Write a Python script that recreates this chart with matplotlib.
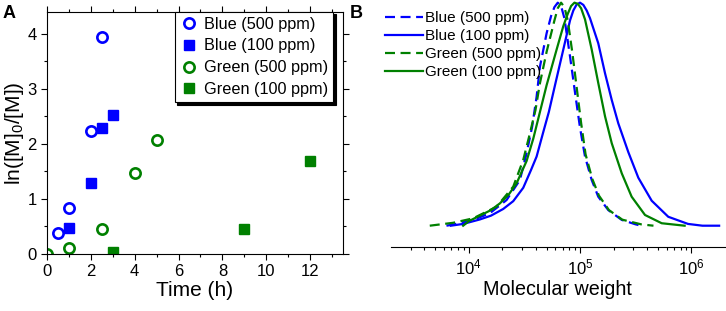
import matplotlib
matplotlib.use("Agg")
import matplotlib.pyplot as plt
from matplotlib.ticker import MultipleLocator, LogLocator, NullFormatter
import numpy as np

plt.rcParams['font.family'] = ['Liberation Sans', 'DejaVu Sans']
plt.rcParams['mathtext.default'] = 'regular'

BLUE = '#0000ff'
GREEN = '#008000'

# ---- panel A: conversion vs time ----
t_blue500 = [0.5, 1, 2, 2.5]
y_blue500 = [0.39, 0.83, 2.24, 3.94]
t_blue100 = [1, 2, 2.5, 3]
y_blue100 = [0.48, 1.29, 2.29, 2.52]
t_green500 = [0, 1, 2.5, 4, 5]
y_green500 = [0.0, 0.11, 0.45, 1.47, 2.07]
t_green100 = [3, 9, 12]
y_green100 = [0.03, 0.45, 1.69]

# ---- panel B: GPC traces (log10 of molecular weight, normalised signal) ----
logm_blue500 = [3.80, 3.86, 4.04, 4.19, 4.34, 4.46, 4.52, 4.57, 4.61, 4.64, 4.70, 4.74, 4.77, 4.80,
                4.83, 4.86, 4.91, 4.96, 5.00, 5.045, 5.105, 5.164, 5.254, 5.375, 5.50, 5.55]
h_blue500 = [0.0, 0.005, 0.026, 0.056, 0.115, 0.205, 0.325, 0.444, 0.578, 0.713, 0.863, 0.94, 0.98, 1.0,
             0.985, 0.93, 0.76, 0.58, 0.44, 0.31, 0.205, 0.13, 0.07, 0.026, 0.006, 0.0]

logm_blue100 = [3.84, 3.95, 4.10, 4.20, 4.31, 4.40, 4.49, 4.56, 4.61, 4.67, 4.72, 4.78, 4.85, 4.91,
                4.94, 4.97, 5.00, 5.03, 5.06, 5.09, 5.164, 5.225, 5.285, 5.344, 5.434, 5.524,
                5.644, 5.793, 5.97, 6.10, 6.25]
h_blue100 = [0.0, 0.008, 0.028, 0.045, 0.075, 0.11, 0.17, 0.25, 0.31, 0.42, 0.51, 0.64, 0.79, 0.92,
             0.965, 0.992, 1.0, 0.99, 0.965, 0.93, 0.818, 0.683, 0.564, 0.459, 0.33, 0.215,
             0.112, 0.04, 0.008, 0.0, 0.0]

logm_green500 = [3.65, 3.86, 4.04, 4.25, 4.40, 4.49, 4.55, 4.60, 4.64, 4.70, 4.77, 4.80, 4.83,
                 4.86, 4.89, 4.93, 4.975, 5.01, 5.05, 5.11, 5.17, 5.26, 5.38, 5.55, 5.66]
h_green500 = [0.0, 0.013, 0.033, 0.085, 0.175, 0.295, 0.414, 0.519, 0.639, 0.78, 0.92, 0.975, 1.0,
              0.98, 0.92, 0.78, 0.60, 0.46, 0.32, 0.21, 0.135, 0.07, 0.027, 0.006, 0.0]

logm_green100 = [3.95, 4.00, 4.10, 4.20, 4.28, 4.36, 4.43, 4.52, 4.58, 4.64, 4.70, 4.79, 4.85,
                 4.89, 4.92, 4.95, 4.98, 5.01, 5.045, 5.105, 5.164, 5.225, 5.285, 5.375, 5.464,
                 5.584, 5.734, 5.94]
h_green100 = [0.0, 0.02, 0.045, 0.07, 0.10, 0.14, 0.19, 0.29, 0.39, 0.51, 0.63, 0.79, 0.895,
              0.95, 0.985, 1.0, 0.995, 0.975, 0.925, 0.79, 0.64, 0.49, 0.37, 0.235, 0.13,
              0.048, 0.011, 0.0]

fig = plt.figure(figsize=(7.26, 3.11), dpi=100)

# panel A
axA = fig.add_axes([0.0647, 0.1833, 0.4078, 0.7791])
mk = dict(linestyle='none', markersize=7.4)
axA.plot(t_blue500, y_blue500, marker='o', mfc='white', mec=BLUE, mew=1.9, label='Blue (500 ppm)', **mk)
axA.plot(t_blue100, y_blue100, marker='s', color=BLUE, label='Blue (100 ppm)', **mk)
axA.plot(t_green500, y_green500, marker='o', mfc='white', mec=GREEN, mew=1.9, label='Green (500 ppm)', **mk)
axA.plot(t_green100, y_green100, marker='s', color=GREEN, label='Green (100 ppm)', **mk)
axA.set_xlim(0, 13.5)
axA.set_ylim(0, 4.4)
axA.xaxis.set_major_locator(MultipleLocator(2))
axA.xaxis.set_minor_locator(MultipleLocator(1))
axA.yaxis.set_major_locator(MultipleLocator(1))
axA.yaxis.set_minor_locator(MultipleLocator(0.5))
axA.tick_params(which='both', direction='out', labelsize=12, width=0.8)
axA.tick_params(which='major', length=4)
axA.tick_params(which='minor', length=2.5)
axA.tick_params(which='both', top=True, right=True)
for s in axA.spines.values():
    s.set_linewidth(0.8)
axA.set_xlabel('Time (h)', fontsize=15, labelpad=1)
axA.set_ylabel('ln([M]$_0$/[M])', fontsize=15, labelpad=1)
legA = axA.legend(loc='upper right', bbox_to_anchor=(0.966, 1.0), borderaxespad=0,
                  fontsize=11.7, fancybox=False, edgecolor='black', framealpha=1,
                  handletextpad=0.3, labelspacing=0.42, borderpad=0.3, handlelength=1.2,
                  shadow={'color': 'black', 'alpha': 1})
legA.get_frame().set_linewidth(0.8)

# panel B
axB = fig.add_axes([0.5386, 0.2058, 0.4596, 0.7942])
axB.plot(10 ** np.array(logm_blue500), h_blue500, color=BLUE, lw=1.6, ls=(0, (4.5, 2.5)), label='Blue (500 ppm)')
axB.plot(10 ** np.array(logm_blue100), h_blue100, color=BLUE, lw=1.6, label='Blue (100 ppm)')
axB.plot(10 ** np.array(logm_green500), h_green500, color=GREEN, lw=1.6, ls=(0, (4.5, 2.5)), label='Green (500 ppm)')
axB.plot(10 ** np.array(logm_green100), h_green100, color=GREEN, lw=1.6, label='Green (100 ppm)')
axB.set_xscale('log')
axB.set_xlim(10 ** 3.302, 10 ** 6.3)
axB.set_ylim(-0.0955, 1.012)
for k in ['top', 'right', 'left']:
    axB.spines[k].set_visible(False)
axB.spines['bottom'].set_linewidth(0.8)
axB.set_yticks([])
axB.xaxis.set_major_locator(LogLocator(base=10, numticks=10))
axB.xaxis.set_minor_locator(LogLocator(base=10, subs=np.arange(2, 10), numticks=10))
axB.xaxis.set_minor_formatter(NullFormatter())
axB.tick_params(which='both', direction='out', labelsize=12, width=0.8)
axB.tick_params(which='major', length=4)
axB.tick_params(which='minor', length=2.5)
axB.set_xlabel('Molecular weight', fontsize=14.2, labelpad=2)
axB.legend(loc='upper left', bbox_to_anchor=(383 / 726, 0.968), bbox_transform=fig.transFigure,
           frameon=False, fontsize=11, handlelength=2.5, handletextpad=0.15,
           labelspacing=0.25, borderpad=0.1, borderaxespad=0)

fig.text(0.004, 0.985, 'A', fontsize=13, fontweight='bold', va='top', ha='left')
fig.text(0.482, 0.985, 'B', fontsize=13, fontweight='bold', va='top', ha='left')

fig.savefig('out.png', dpi=100)
